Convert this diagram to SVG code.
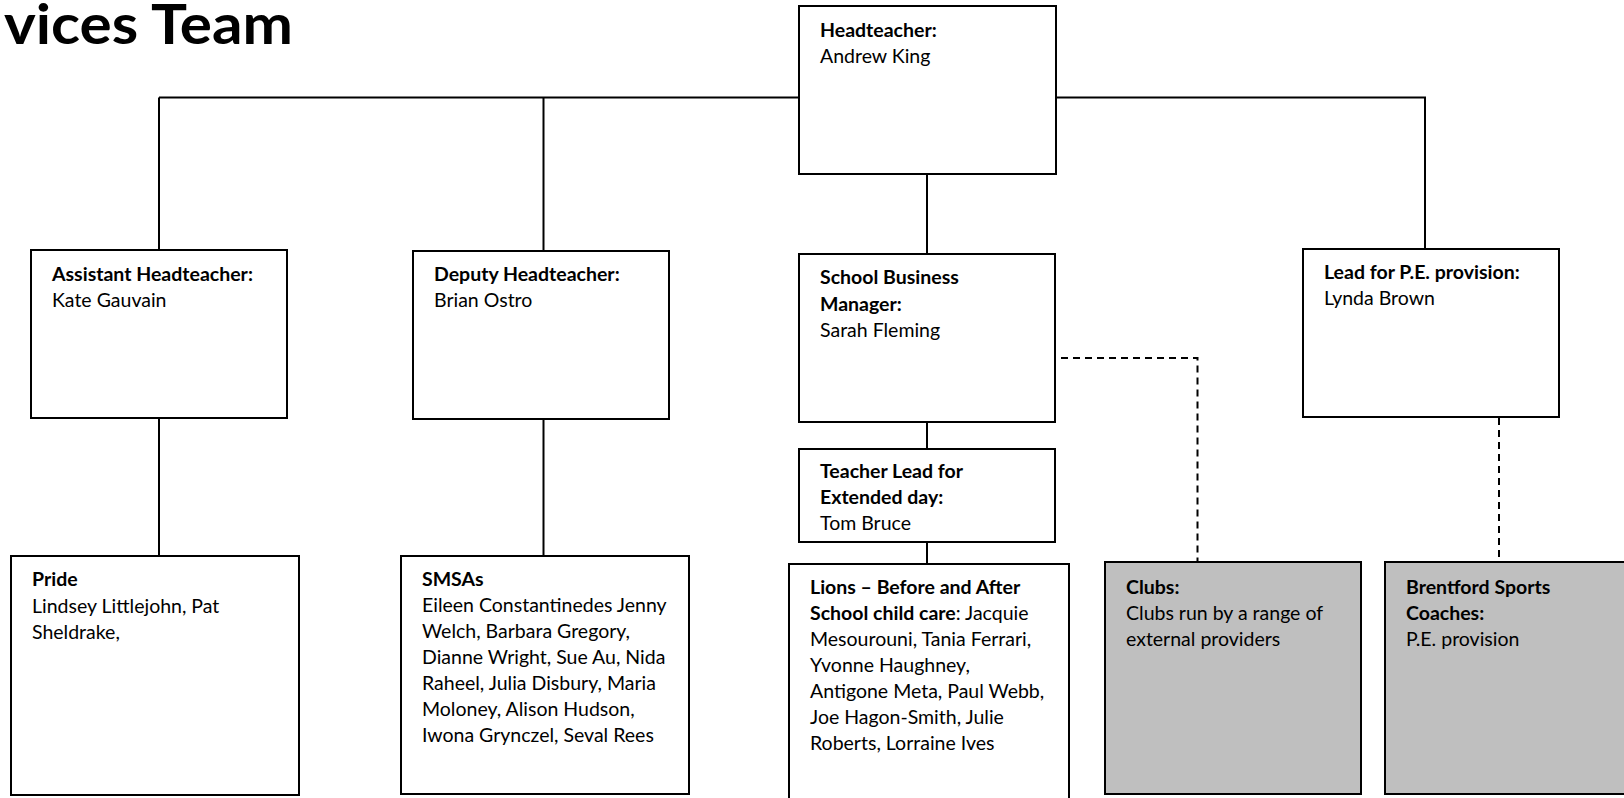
<svg xmlns="http://www.w3.org/2000/svg" width="1624" height="798" viewBox="0 0 1624 798">
  <style>
    .box { fill: #ffffff; stroke: #000000; stroke-width: 2; }
    .ext { fill: #bfbfbf; stroke: #000000; stroke-width: 2; }
    .solid { fill: none; stroke: #000000; stroke-width: 2; }
    .dash { fill: none; stroke: #000000; stroke-width: 2; stroke-dasharray: 7 5; }
    text { font-family: Lato, "Open Sans", "Liberation Sans", sans-serif; font-size: 19.5px; fill: #000000; }
    .b { font-weight: 700; }
    .title { font-size: 55px; font-weight: 700; }
  </style>

  <text class="title" x="4" y="44" textLength="289" lengthAdjust="spacingAndGlyphs">vices Team</text>

  <!-- reporting lines -->
  <g id="connectors">
    <path class="solid" d="M159 97.5 H799 M1056 97.5 H1425 V249"/>
    <path class="solid" d="M159 97.5 V250"/>
    <path class="solid" d="M543.5 97.5 V251"/>
    <path class="solid" d="M927 174 V254"/>
    <path class="solid" d="M159 418 V556"/>
    <path class="solid" d="M543.5 419 V556"/>
    <path class="solid" d="M927 422 V449"/>
    <path class="solid" d="M927 542 V564"/>
    <path class="dash" d="M1061 358 H1197.5 V562"/>
    <path class="dash" d="M1499 418 V562"/>
  </g>

  <g id="headteacher">
    <rect class="box" x="799" y="6" width="257" height="168"/>
    <text class="b" x="820" y="37">Headteacher:</text>
    <text x="820" y="63">Andrew King</text>
  </g>

  <g id="assistant-head">
    <rect class="box" x="31" y="250" width="256" height="168"/>
    <text class="b" x="52" y="281">Assistant Headteacher:</text>
    <text x="52" y="307">Kate Gauvain</text>
  </g>

  <g id="deputy-head">
    <rect class="box" x="413" y="251" width="256" height="168"/>
    <text class="b" x="434" y="281">Deputy Headteacher:</text>
    <text x="434" y="307">Brian Ostro</text>
  </g>

  <g id="business-manager">
    <rect class="box" x="799" y="254" width="256" height="168"/>
    <text class="b" x="820" y="284">School Business</text>
    <text class="b" x="820" y="310.5">Manager:</text>
    <text x="820" y="337">Sarah Fleming</text>
  </g>

  <g id="extended-day-lead">
    <rect class="box" x="799" y="449" width="256" height="93"/>
    <text class="b" x="820" y="477.5">Teacher Lead for</text>
    <text class="b" x="820" y="504">Extended day:</text>
    <text x="820" y="530">Tom Bruce</text>
  </g>

  <g id="pe-lead">
    <rect class="box" x="1303" y="249" width="256" height="168"/>
    <text class="b" x="1324" y="279">Lead for P.E. provision:</text>
    <text x="1324" y="305">Lynda Brown</text>
  </g>

  <g id="pride">
    <rect class="box" x="11" y="556" width="288" height="239"/>
    <text class="b" x="32" y="586">Pride</text>
    <text x="32" y="612.5">Lindsey Littlejohn, Pat</text>
    <text x="32" y="638.5">Sheldrake,</text>
  </g>

  <g id="smsas">
    <rect class="box" x="401" y="556" width="288" height="238"/>
    <text class="b" x="422" y="586">SMSAs</text>
    <text x="422" y="612">Eileen Constantinedes Jenny</text>
    <text x="422" y="638">Welch, Barbara Gregory,</text>
    <text x="422" y="664">Dianne Wright, Sue Au, Nida</text>
    <text x="422" y="690">Raheel, Julia Disbury, Maria</text>
    <text x="422" y="716">Moloney, Alison Hudson,</text>
    <text x="422" y="742">Iwona Grynczel, Seval Rees</text>
  </g>

  <g id="lions">
    <rect class="box" x="789" y="564" width="280" height="250"/>
    <text class="b" x="810" y="594">Lions – Before and After</text>
    <text x="810" y="620"><tspan class="b">School child care</tspan>: Jacquie</text>
    <text x="810" y="646">Mesourouni, Tania Ferrari,</text>
    <text x="810" y="672">Yvonne Haughney,</text>
    <text x="810" y="698">Antigone Meta, Paul Webb,</text>
    <text x="810" y="724">Joe Hagon-Smith, Julie</text>
    <text x="810" y="750">Roberts, Lorraine Ives</text>
  </g>

  <g id="clubs">
    <rect class="ext" x="1105" y="562" width="256" height="232"/>
    <text class="b" x="1126" y="593.5">Clubs:</text>
    <text x="1126" y="620">Clubs run by a range of</text>
    <text x="1126" y="646">external providers</text>
  </g>

  <g id="brentford-coaches">
    <rect class="ext" x="1385" y="562" width="256" height="232"/>
    <text class="b" x="1406" y="593.5">Brentford Sports</text>
    <text class="b" x="1406" y="620">Coaches:</text>
    <text x="1406" y="646">P.E. provision</text>
  </g>
</svg>
